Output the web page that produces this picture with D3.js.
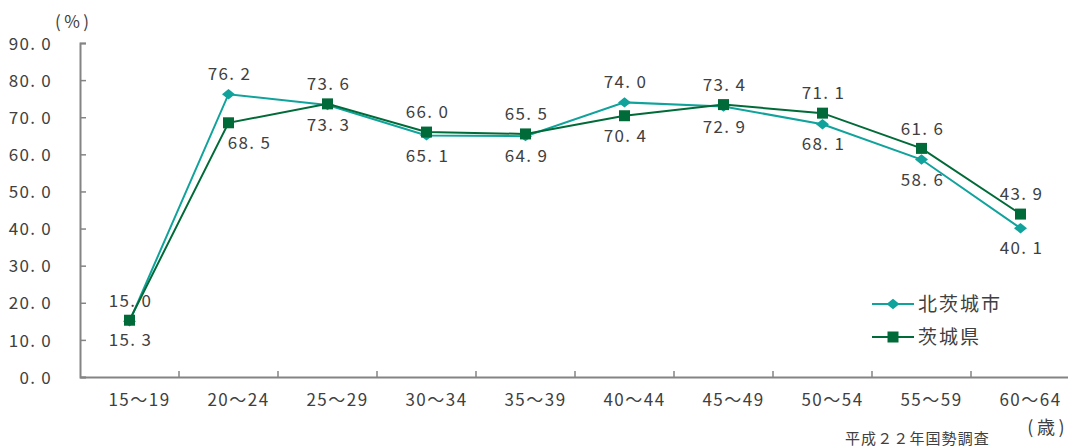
<!DOCTYPE html>
<html><head><meta charset="utf-8">
<script src="https://cdn.jsdelivr.net/npm/d3@7"></script>
<style>body{margin:0;background:#fff}svg{display:block}text{font-family:"Noto Sans CJK JP",sans-serif}</style>
</head><body><svg id="c" width="1068" height="447"></svg>
<script>
const categories = ["15～19","20～24","25～29","30～34","35～39","40～44","45～49","50～54","55～59","60～64"];
const kitaibaraki = [15.0,76.2,73.3,65.1,64.9,74.0,72.9,68.1,58.6,40.1];
const ibaraki = [15.3,68.5,73.6,66.0,65.5,70.4,73.4,71.1,61.6,43.9];
const kitaibarakiAbove = [true,true,false,false,false,true,false,false,false,false];
const ibarakiAbove = [false,false,true,true,true,false,true,true,true,true];
const yTicks = [0,10,20,30,40,50,60,70,80,90];
const seriesNames = ["北茨城市","茨城県"];

const svg = d3.select("#c");
const x = d3.scaleBand().domain(categories).range([80,1070]);
const y = d3.scaleLinear().domain([0,90]).range([377,43]);
const teal = "#0FA39C", green = "#006B38", gray = "#848484", txt = "#404040";
const fmt = v => v.toFixed(1).replace(".", ". ");
const LS = 1.3;

// axes
const yAxis = d3.axisLeft(y).tickValues(yTicks).tickSize(-6).tickFormat(fmt);
const gy = svg.append("g").attr("transform","translate(80,0)").call(yAxis);
gy.select(".domain").attr("stroke",gray).attr("stroke-width",2);
gy.selectAll(".tick line").attr("stroke",gray).attr("stroke-width",1.5);
gy.selectAll(".tick text").attr("fill",txt).attr("font-size",17).attr("letter-spacing",LS)
  .attr("x",-28).attr("dy","0.36em");

const xAxis = d3.axisBottom(x).tickSize(0).tickPadding(17);
const gx = svg.append("g").attr("transform","translate(0,377)").call(xAxis);
gx.select(".domain").attr("stroke",gray).attr("stroke-width",2);
gx.selectAll(".tick text").attr("fill",txt).attr("font-size",17).attr("letter-spacing",1.5).attr("x",10);
// inward ticks at category boundaries
svg.append("g").selectAll("line").data(categories.slice(1)).join("line")
  .attr("x1",d=>x(d)).attr("x2",d=>x(d)).attr("y1",377).attr("y2",371)
  .attr("stroke",gray).attr("stroke-width",1.5);

svg.append("text").attr("x",72).attr("y",22).attr("dy","0.36em").attr("text-anchor","middle").attr("font-size",17).attr("fill",txt).text("(\u2009%\u2009)");
svg.append("text").attr("x",1046).attr("y",428).attr("dy","0.36em").attr("text-anchor","middle").attr("font-size",18).attr("fill",txt).text("(\u2009歳\u2009)");
svg.append("text").attr("x",845).attr("y",444).attr("font-size",15).attr("letter-spacing",1.1).attr("fill",txt).text("平成２２年国勢調査");

const diamond = {draw(ctx, size){ const w=6.5,h=5.2; ctx.moveTo(0,-h); ctx.lineTo(w,0); ctx.lineTo(0,h); ctx.lineTo(-w,0); ctx.closePath(); }};
const cx = d => x(d) + x.bandwidth()/2;
function drawSeries(vals, above, color, shape, size, dxFn){
  const pts = vals.map((v,i)=>({c:categories[i],v,a:above[i],i}));
  svg.append("path").datum(pts)
    .attr("d", d3.line().x(d=>cx(d.c)).y(d=>y(d.v)))
    .attr("fill","none").attr("stroke",color).attr("stroke-width",2);
  svg.append("g").selectAll("path").data(pts).join("path")
    .attr("transform",d=>`translate(${cx(d.c)},${y(d.v)})`)
    .attr("d", d3.symbol().type(shape).size(size)).attr("fill",color);
  svg.append("g").selectAll("text").data(pts).join("text")
    .attr("x",d=>cx(d.c)+1+dxFn(d)).attr("y",d=>y(d.v)+(d.a?-20:20)).attr("dy","0.36em")
    .attr("text-anchor","middle").attr("font-size",17).attr("letter-spacing",LS).attr("fill",txt)
    .text(d=>fmt(d.v));
}
drawSeries(kitaibaraki, kitaibarakiAbove, teal, diamond, 0, d=>0);
drawSeries(ibaraki, ibarakiAbove, green, d3.symbolSquare, 121, d=>d.i===1?20:0);

// legend
const leg = [{n:seriesNames[0],c:teal,s:diamond,z:0,y:304},{n:seriesNames[1],c:green,s:d3.symbolSquare,z:121,y:337}];
const lg = svg.append("g");
leg.forEach(l=>{
  lg.append("line").attr("x1",872).attr("x2",914).attr("y1",l.y).attr("y2",l.y).attr("stroke",l.c).attr("stroke-width",2);
  lg.append("path").attr("transform",`translate(893,${l.y})`).attr("d",d3.symbol().type(l.s).size(l.z)).attr("fill",l.c);
  lg.append("text").attr("x",918).attr("y",l.y).attr("dy","0.36em").attr("font-size",19).attr("letter-spacing",2).attr("fill",txt).text(l.n);
});
</script></body></html>
